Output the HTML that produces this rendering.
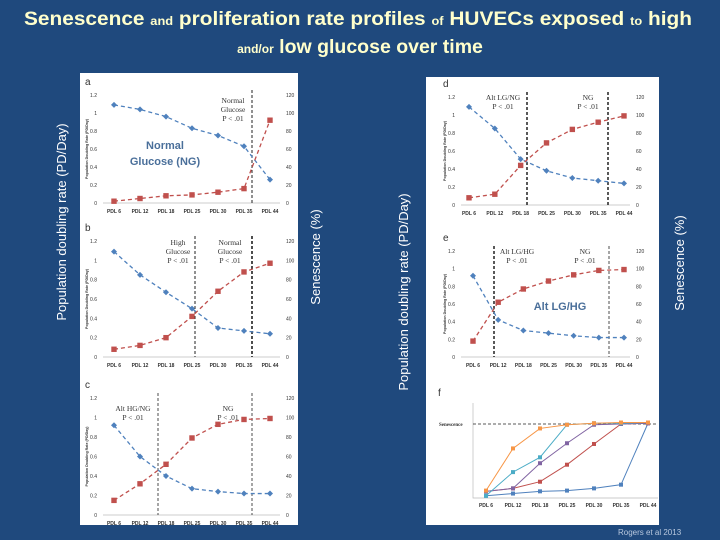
<!DOCTYPE html>
<html><head><meta charset="utf-8"><style>
html,body{margin:0;padding:0;background:#1f497d;}
svg{display:block;font-family:"Liberation Sans",sans-serif;}
</style></head><body>
<svg id="s" width="720" height="540" viewBox="0 0 720 540">
<rect width="720" height="540" fill="#1f497d"/>
<text x="358" y="25" text-anchor="middle" fill="#ffffcc" font-weight="bold" font-size="19.5" textLength="668" lengthAdjust="spacingAndGlyphs">Senescence <tspan font-size="12">and</tspan> proliferation rate profiles <tspan font-size="12">of</tspan> HUVECs exposed <tspan font-size="12">to</tspan> high</text>
<text x="360" y="53" text-anchor="middle" fill="#ffffcc" font-weight="bold" font-size="19.5"><tspan font-size="12">and/or</tspan> low glucose over time</text>
<rect x="80" y="73" width="218" height="452" fill="#fff"/>
<rect x="426" y="77" width="233" height="448" fill="#fff"/>
<text transform="translate(66,222) rotate(-90)" text-anchor="middle" fill="#fff" font-size="13">Population doubling rate (PD/Day)</text>
<text transform="translate(320,257) rotate(-90)" text-anchor="middle" fill="#fff" font-size="13">Senescence (%)</text>
<text transform="translate(408,292) rotate(-90)" text-anchor="middle" fill="#fff" font-size="13">Population doubling rate (PD/Day)</text>
<text transform="translate(684,263) rotate(-90)" text-anchor="middle" fill="#fff" font-size="13">Senescence (%)</text>
<text x="618" y="535" fill="#b8c8de" font-size="8">Rogers et al 2013</text>
<g id="g"></g>
</svg>
<script>
const categories = ["PDL 6","PDL 12","PDL 18","PDL 25","PDL 30","PDL 35","PDL 44"];
const leftTicks = ["0","0.2","0.4","0.6","0.8","1","1.2"];
const rightTicks = ["0","20","40","60","80","100","120"];
const aRate = [1.09,1.04,0.96,0.83,0.75,0.63,0.26];
const aSen = [2,5,8,9,12,16,92];
const bRate = [1.09,0.85,0.67,0.5,0.3,0.27,0.24];
const bSen = [8,12,20,42,68,88,97];
const cRate = [0.92,0.6,0.4,0.27,0.24,0.22,0.22];
const cSen = [15,32,52,79,93,98,99];
const dRate = [1.09,0.85,0.51,0.38,0.3,0.27,0.24];
const dSen = [8,12,44,69,84,92,99];
const eRate = [0.92,0.42,0.3,0.27,0.24,0.22,0.22];
const eSen = [18,62,77,86,93,98,99];
const fBlue = [3,6,9,10,13,18,101];
const fRed = [9,13,22,45,73,100,101];
const fPurple = [9,13,47,74,99,100,101];
const fTeal = [3,35,55,99,101,101,102];
const fOrange = [10,67,94,99,101,102,102];

const NS="http://www.w3.org/2000/svg";
const G=document.getElementById('g');
function mk(tag,at,parent,txt){const e=document.createElementNS(NS,tag);for(const k in at)e.setAttribute(k,at[k]);if(txt!==undefined)e.textContent=txt;(parent||G).appendChild(e);return e;}

function chart(id,cfg){
  const g=mk('g',{});
  
  
  const xs=i=>cfg.x0+i*(cfg.x1-cfg.x0)/(categories.length-1);
  const yl=v=>cfg.yb-(v/1.2)*(cfg.yb-cfg.yt);
  const yr=v=>cfg.yb-(v/120)*(cfg.yb-cfg.yt);
  const L=mk('text',{x:cfg.lx-12,y:cfg.yt-10,'font-size':10,fill:'#333'},g,id);
  
  
  const ax=mk('line',{x1:cfg.lx+6,x2:cfg.rx-6,y1:cfg.yb,y2:cfg.yb,stroke:'#bbb','stroke-width':0.7},g);
  
  
  leftTicks.forEach((t,i)=>{
    const v=i*0.2;
    const e=mk('text',{x:cfg.lx,y:yl(v)+2,'font-size':5,'text-anchor':'end',fill:'#333'},g,t);
    
    
  });
  rightTicks.forEach((t,i)=>{
    const e=mk('text',{x:cfg.rx,y:yr(i*20)+2,'font-size':5,fill:'#333'},g,t);
    
    
  });
  categories.forEach((c,i)=>{
    const e=mk('text',{x:xs(i),y:cfg.yb+10,'font-size':5,'text-anchor':'middle',fill:'#333','font-weight':'bold'},g,c);
    
    
  });
  const yt=mk('text',{transform:`translate(${cfg.lx-9},${(cfg.yt+cfg.yb)/2}) rotate(-90)`,'font-size':3.6,'text-anchor':'middle',fill:'#333','font-weight':'bold'},g,'Population Doubling Rate (PD/Day)');
  
  
  cfg.vlines.forEach(v=>{
    const e=mk('line',{x1:v[0],x2:v[0],y1:cfg.yt-5,y2:cfg.yb,stroke:'#222','stroke-width':v[1],'stroke-dasharray':'3,2'},g);
    
    
  });
  const rp=cfg.rate.map((v,i)=>xs(i)+','+yl(v)).join(' ');
  const sp=cfg.sen.map((v,i)=>xs(i)+','+yr(v)).join(' ');
  const l1=mk('polyline',{points:rp,fill:'none',stroke:'#4f81bd','stroke-width':1.3,'stroke-dasharray':'4,3'},g);
  
  
  const l2=mk('polyline',{points:sp,fill:'none',stroke:'#c0504d','stroke-width':1.3,'stroke-dasharray':'4,3'},g);
  
  
  cfg.rate.forEach((v,i)=>{
    const x=xs(i),y=yl(v);
    const e=mk('polygon',{points:`${x},${y-3} ${x+3},${y} ${x},${y+3} ${x-3},${y}`,fill:'#4f81bd'},g);
    
    
  });
  cfg.sen.forEach((v,i)=>{
    const e=mk('rect',{x:xs(i)-2.7,y:yr(v)-2.7,width:5.4,height:5.4,fill:'#c0504d'},g);
    
    
  });
  cfg.notes.forEach(n=>{
    n[3].forEach((t,k)=>{
      const e=mk('text',{x:n[0],y:n[1]+k*9,'font-size':7.5,'text-anchor':'middle',fill:'#333','font-family':'Liberation Serif, serif'},g,t);
      
      
    });
  });
}

chart('a',{x0:114,x1:270,yt:95,yb:203,lx:97,rx:286,rate:aRate,sen:aSen,vlines:[[252,1]],
  notes:[[233,103,0,['Normal','Glucose','P < .01']]]});
chart('b',{x0:114,x1:270,yt:241,yb:357,lx:97,rx:286,rate:bRate,sen:bSen,vlines:[[195,1],[252,1.6]],
  notes:[[178,245,0,['High','Glucose','P < .01']],[230,245,0,['Normal','Glucose','P < .01']]]});
chart('c',{x0:114,x1:270,yt:398,yb:515,lx:97,rx:286,rate:cRate,sen:cSen,vlines:[[158,0.8],[252,0.8]],
  notes:[[133,411,0,['Alt HG/NG','  P < .01']],[228,411,0,['NG','P < .01']]]});
chart('d',{x0:469,x1:624,yt:97,yb:205,lx:455,rx:636,rate:dRate,sen:dSen,vlines:[[527,1.5],[608,1.5]],
  notes:[[503,100,0,['Alt LG/NG','P < .01']],[588,100,0,['NG','P < .01']]]});
chart('e',{x0:473,x1:624,yt:251,yb:357,lx:455,rx:636,rate:eRate,sen:eSen,vlines:[[494,1.5],[609,0.8]],
  notes:[[517,254,0,['Alt LG/HG','P < .01']],[585,254,0,['NG','P < .01']]]});

function note(x,y,t,name){const e=mk('text',{x:x,y:y,'font-size':11,'text-anchor':'middle',fill:'#4a6f9a','font-weight':'bold'},G,t);
  
  }
note(165,149,'Normal','ng-label');
note(165,165,'Glucose (NG)','ng-label-2');
note(560,310,'Alt LG/HG','alt-lg-hg-label');

// Chart f
const fx0=486,fx1=648,fyb=498,fy100=424;
const fxs=i=>fx0+i*(fx1-fx0)/(categories.length-1);
const fy=v=>fyb-v/100*(fyb-fy100);
const gf=mk('g',{});


const fl=mk('text',{x:438,y:396,'font-size':10,fill:'#333'},gf,'f');


const fax=mk('path',{d:`M473,403 V${fyb} H658`,fill:'none',stroke:'#bbb','stroke-width':0.7},gf);


const sl=mk('line',{x1:473,x2:658,y1:fy100,y2:fy100,stroke:'#222','stroke-dasharray':'3,2','stroke-width':0.8},gf);


const st=mk('text',{x:439,y:fy100+2,'font-size':5,fill:'#333','font-family':'Liberation Serif, serif','font-weight':'bold'},gf,'Senescence');


categories.forEach((c,i)=>{
  const e=mk('text',{x:fxs(i),y:fyb+9,'font-size':5,'text-anchor':'middle',fill:'#333','font-weight':'bold'},gf,c);
  
  
});
[[fBlue,'#4f81bd','blue'],[fRed,'#c0504d','red'],[fPurple,'#8064a2','purple'],[fTeal,'#4bacc6','teal'],[fOrange,'#f79646','orange']].forEach(s=>{
  const pl=mk('polyline',{points:s[0].map((v,i)=>fxs(i)+','+fy(v)).join(' '),fill:'none',stroke:s[1],'stroke-width':1},gf);
  
  
  s[0].forEach((v,i)=>{
    const m=mk('rect',{x:fxs(i)-2,y:fy(v)-2,width:4,height:4,fill:s[1]},gf);
    
    
  });
});
</script>
</body></html>
